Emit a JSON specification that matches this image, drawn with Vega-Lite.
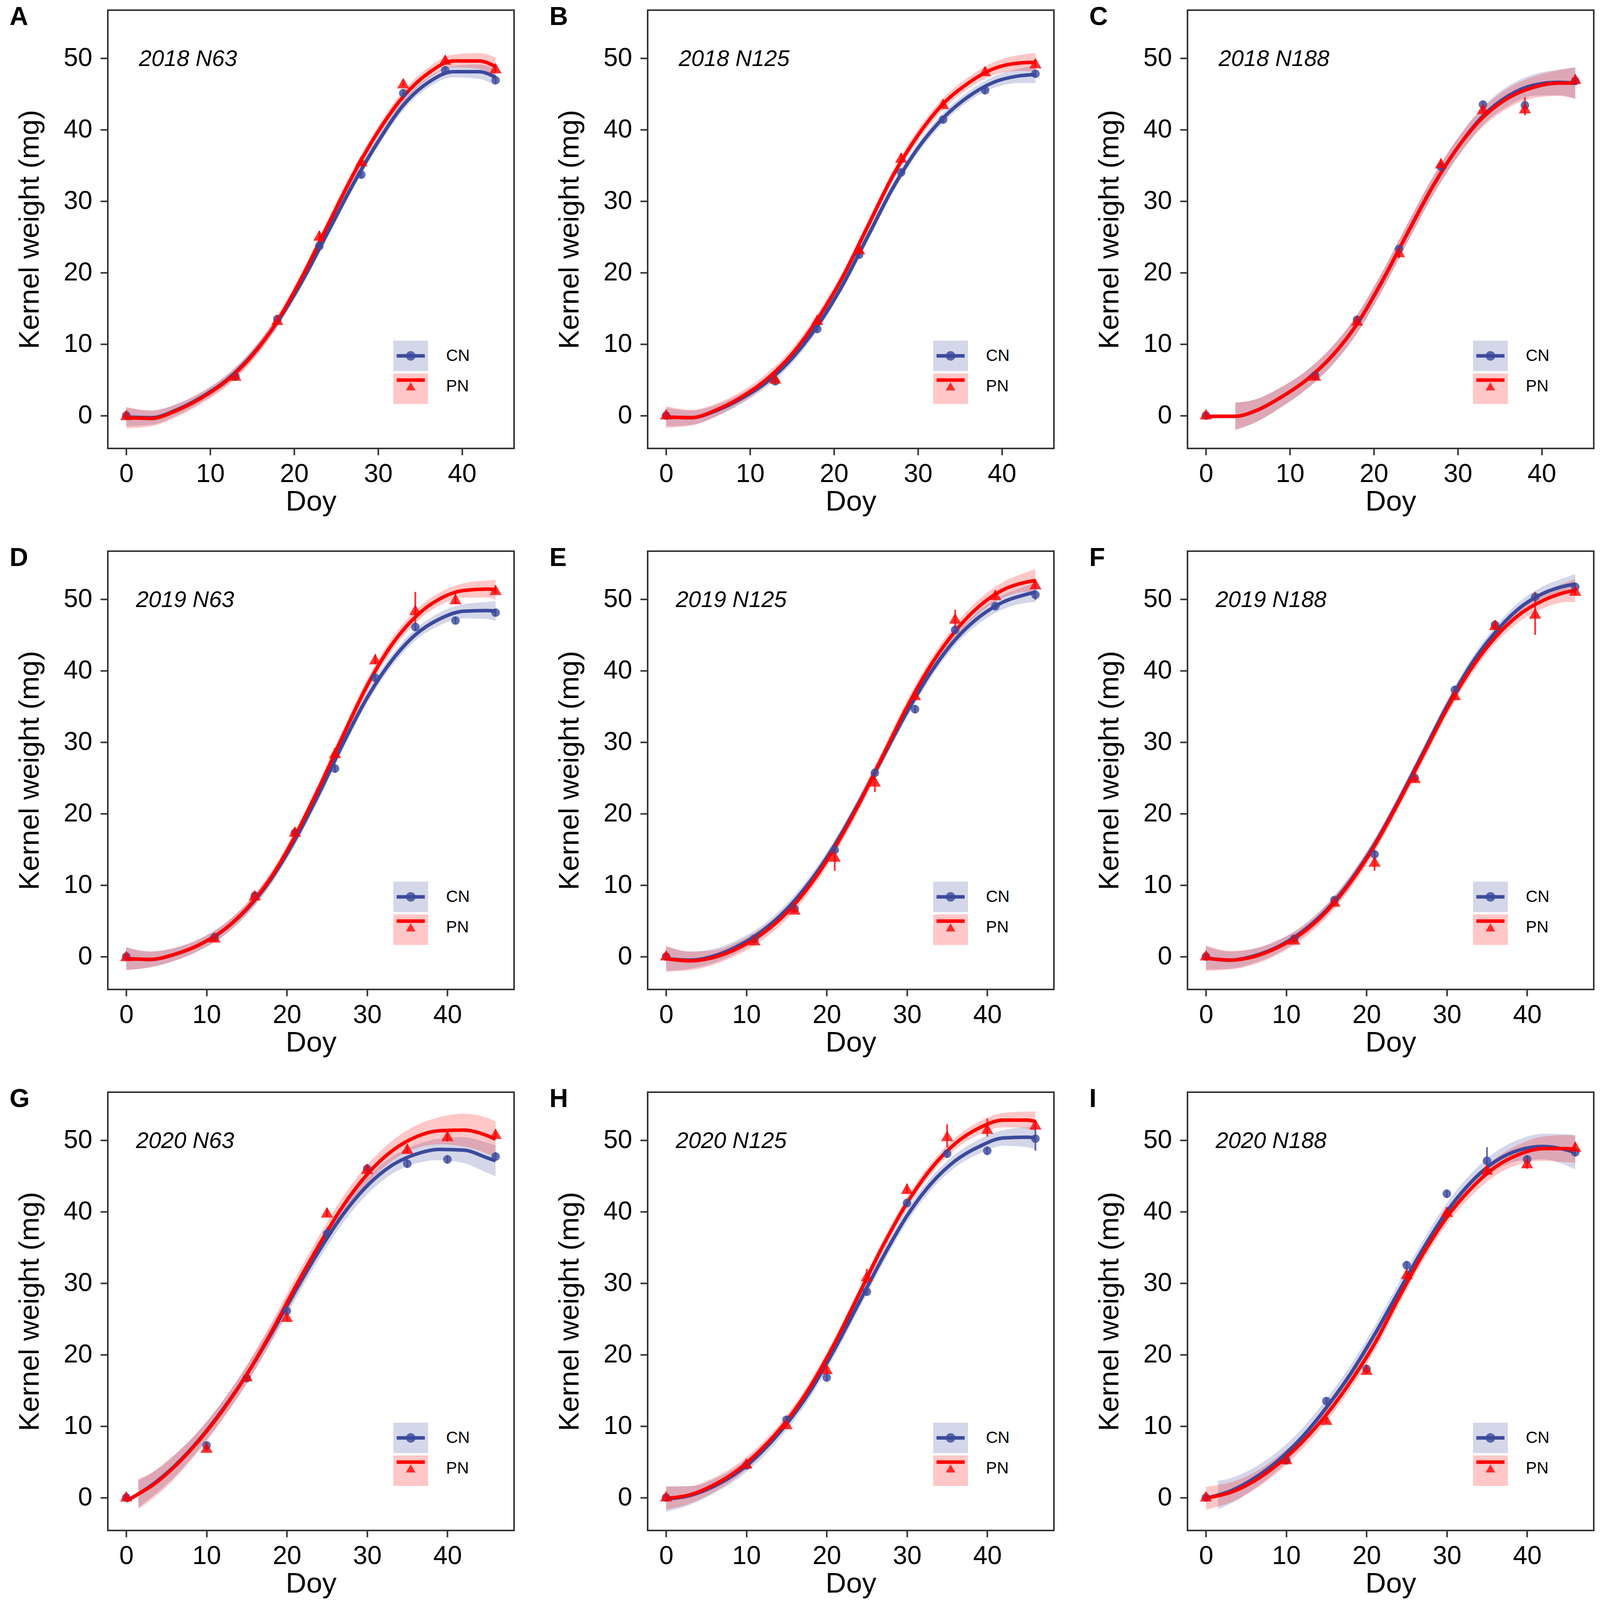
{
"$schema":"https://vega.github.io/schema/vega-lite/v6.json",
"background":"white",
"padding":{"left":22,"top":9,"right":0,"bottom":0},
"datasets":{
"cur":[
{"p":"A","t":"CN","x":0,"y":-0.2,"lo":-1.5,"hi":1.1},{"p":"A","t":"CN","x":3,"y":-0.3,"lo":-1.3,"hi":0.7},{"p":"A","t":"CN","x":6,"y":0.8,"lo":0.0,"hi":1.6},{"p":"A","t":"CN","x":9,"y":2.6,"lo":1.9,"hi":3.3},{"p":"A","t":"CN","x":12,"y":5.0,"lo":4.3,"hi":5.7},{"p":"A","t":"CN","x":15,"y":8.5,"lo":7.8,"hi":9.2},{"p":"A","t":"CN","x":18,"y":13.1,"lo":12.4,"hi":13.8},{"p":"A","t":"CN","x":21,"y":18.9,"lo":18.2,"hi":19.6},{"p":"A","t":"CN","x":24,"y":25.6,"lo":24.9,"hi":26.3},{"p":"A","t":"CN","x":27,"y":32.3,"lo":31.6,"hi":33.0},{"p":"A","t":"CN","x":30,"y":38.3,"lo":37.6,"hi":39.0},{"p":"A","t":"CN","x":33,"y":43.4,"lo":42.7,"hi":44.1},{"p":"A","t":"CN","x":36,"y":46.6,"lo":45.9,"hi":47.3},{"p":"A","t":"CN","x":39,"y":48.1,"lo":47.3,"hi":48.9},{"p":"A","t":"CN","x":42,"y":48.1,"lo":47.1,"hi":49.1},{"p":"A","t":"CN","x":44,"y":47.3,"lo":46.1,"hi":48.5},
{"p":"A","t":"PN","x":0,"y":-0.3,"lo":-1.8,"hi":1.2},{"p":"A","t":"PN","x":3,"y":-0.4,"lo":-1.5,"hi":0.7},{"p":"A","t":"PN","x":6,"y":0.7,"lo":-0.2,"hi":1.6},{"p":"A","t":"PN","x":9,"y":2.5,"lo":1.7,"hi":3.3},{"p":"A","t":"PN","x":12,"y":4.9,"lo":4.1,"hi":5.7},{"p":"A","t":"PN","x":15,"y":8.4,"lo":7.6,"hi":9.2},{"p":"A","t":"PN","x":18,"y":13.2,"lo":12.4,"hi":14.0},{"p":"A","t":"PN","x":21,"y":19.5,"lo":18.7,"hi":20.3},{"p":"A","t":"PN","x":24,"y":26.6,"lo":25.8,"hi":27.4},{"p":"A","t":"PN","x":27,"y":33.6,"lo":32.8,"hi":34.4},{"p":"A","t":"PN","x":30,"y":39.7,"lo":38.9,"hi":40.5},{"p":"A","t":"PN","x":33,"y":44.6,"lo":43.8,"hi":45.4},{"p":"A","t":"PN","x":36,"y":47.9,"lo":47.1,"hi":48.7},{"p":"A","t":"PN","x":39,"y":49.6,"lo":48.7,"hi":50.5},{"p":"A","t":"PN","x":42,"y":49.6,"lo":48.5,"hi":50.7},{"p":"A","t":"PN","x":44,"y":48.8,"lo":47.5,"hi":50.1},
{"p":"B","t":"CN","x":0,"y":-0.2,"lo":-1.5,"hi":1.1},{"p":"B","t":"CN","x":3,"y":-0.3,"lo":-1.3,"hi":0.7},{"p":"B","t":"CN","x":6,"y":0.7,"lo":-0.1,"hi":1.5},{"p":"B","t":"CN","x":9,"y":2.4,"lo":1.7,"hi":3.1},{"p":"B","t":"CN","x":12,"y":4.7,"lo":4.0,"hi":5.4},{"p":"B","t":"CN","x":15,"y":8.0,"lo":7.3,"hi":8.7},{"p":"B","t":"CN","x":18,"y":12.5,"lo":11.8,"hi":13.2},{"p":"B","t":"CN","x":21,"y":18.2,"lo":17.5,"hi":18.9},{"p":"B","t":"CN","x":24,"y":25.0,"lo":24.3,"hi":25.7},{"p":"B","t":"CN","x":27,"y":31.8,"lo":31.1,"hi":32.5},{"p":"B","t":"CN","x":30,"y":37.4,"lo":36.7,"hi":38.1},{"p":"B","t":"CN","x":33,"y":41.6,"lo":40.9,"hi":42.3},{"p":"B","t":"CN","x":36,"y":44.6,"lo":43.9,"hi":45.3},{"p":"B","t":"CN","x":39,"y":46.6,"lo":45.8,"hi":47.4},{"p":"B","t":"CN","x":42,"y":47.5,"lo":46.5,"hi":48.5},{"p":"B","t":"CN","x":44,"y":47.7,"lo":46.5,"hi":48.9},
{"p":"B","t":"PN","x":0,"y":-0.2,"lo":-1.7,"hi":1.3},{"p":"B","t":"PN","x":3,"y":-0.3,"lo":-1.4,"hi":0.8},{"p":"B","t":"PN","x":6,"y":0.8,"lo":-0.1,"hi":1.7},{"p":"B","t":"PN","x":9,"y":2.6,"lo":1.8,"hi":3.4},{"p":"B","t":"PN","x":12,"y":5.1,"lo":4.3,"hi":5.9},{"p":"B","t":"PN","x":15,"y":8.6,"lo":7.8,"hi":9.4},{"p":"B","t":"PN","x":18,"y":13.4,"lo":12.6,"hi":14.2},{"p":"B","t":"PN","x":21,"y":19.3,"lo":18.5,"hi":20.1},{"p":"B","t":"PN","x":24,"y":26.4,"lo":25.6,"hi":27.2},{"p":"B","t":"PN","x":27,"y":33.5,"lo":32.7,"hi":34.3},{"p":"B","t":"PN","x":30,"y":39.2,"lo":38.4,"hi":40.0},{"p":"B","t":"PN","x":33,"y":43.6,"lo":42.8,"hi":44.4},{"p":"B","t":"PN","x":36,"y":46.5,"lo":45.7,"hi":47.3},{"p":"B","t":"PN","x":39,"y":48.5,"lo":47.6,"hi":49.4},{"p":"B","t":"PN","x":42,"y":49.3,"lo":48.2,"hi":50.4},{"p":"B","t":"PN","x":44,"y":49.4,"lo":48.1,"hi":50.7},
{"p":"C","t":"CN","x":0,"y":-0.1,"lo":null,"hi":null},{"p":"C","t":"CN","x":3.5,"y":-0.1,"lo":-2.0,"hi":1.8},{"p":"C","t":"CN","x":6,"y":0.7,"lo":-0.9,"hi":2.3},{"p":"C","t":"CN","x":9,"y":2.6,"lo":1.2,"hi":4.0},{"p":"C","t":"CN","x":12,"y":5.0,"lo":3.7,"hi":6.3},{"p":"C","t":"CN","x":15,"y":8.3,"lo":7.0,"hi":9.6},{"p":"C","t":"CN","x":18,"y":12.8,"lo":11.5,"hi":14.1},{"p":"C","t":"CN","x":21,"y":18.8,"lo":17.5,"hi":20.1},{"p":"C","t":"CN","x":24,"y":25.5,"lo":24.2,"hi":26.8},{"p":"C","t":"CN","x":27,"y":32.0,"lo":30.7,"hi":33.3},{"p":"C","t":"CN","x":30,"y":37.5,"lo":36.2,"hi":38.8},{"p":"C","t":"CN","x":33,"y":41.9,"lo":40.6,"hi":43.2},{"p":"C","t":"CN","x":36,"y":44.7,"lo":43.3,"hi":46.1},{"p":"C","t":"CN","x":39,"y":46.2,"lo":44.7,"hi":47.7},{"p":"C","t":"CN","x":42,"y":46.6,"lo":44.8,"hi":48.4},{"p":"C","t":"CN","x":44,"y":46.5,"lo":44.3,"hi":48.7},
{"p":"C","t":"PN","x":0,"y":-0.1,"lo":null,"hi":null},{"p":"C","t":"PN","x":3.5,"y":-0.1,"lo":-2.0,"hi":1.8},{"p":"C","t":"PN","x":6,"y":0.7,"lo":-0.9,"hi":2.3},{"p":"C","t":"PN","x":9,"y":2.6,"lo":1.2,"hi":4.0},{"p":"C","t":"PN","x":12,"y":5.0,"lo":3.7,"hi":6.3},{"p":"C","t":"PN","x":15,"y":8.3,"lo":7.0,"hi":9.6},{"p":"C","t":"PN","x":18,"y":12.8,"lo":11.5,"hi":14.1},{"p":"C","t":"PN","x":21,"y":18.8,"lo":17.5,"hi":20.1},{"p":"C","t":"PN","x":24,"y":25.5,"lo":24.2,"hi":26.8},{"p":"C","t":"PN","x":27,"y":32.0,"lo":30.7,"hi":33.3},{"p":"C","t":"PN","x":30,"y":37.5,"lo":36.2,"hi":38.8},{"p":"C","t":"PN","x":33,"y":41.7,"lo":40.4,"hi":43.0},{"p":"C","t":"PN","x":36,"y":44.4,"lo":43.0,"hi":45.8},{"p":"C","t":"PN","x":39,"y":45.9,"lo":44.4,"hi":47.4},{"p":"C","t":"PN","x":42,"y":46.5,"lo":44.7,"hi":48.3},{"p":"C","t":"PN","x":44,"y":46.5,"lo":44.3,"hi":48.7},
{"p":"D","t":"CN","x":0,"y":-0.3,"lo":-1.9,"hi":1.3},{"p":"D","t":"CN","x":3,"y":-0.4,"lo":-1.5,"hi":0.7},{"p":"D","t":"CN","x":6,"y":0.3,"lo":-0.6,"hi":1.2},{"p":"D","t":"CN","x":9,"y":1.6,"lo":0.8,"hi":2.4},{"p":"D","t":"CN","x":12,"y":3.6,"lo":2.8,"hi":4.4},{"p":"D","t":"CN","x":15,"y":6.6,"lo":5.8,"hi":7.4},{"p":"D","t":"CN","x":18,"y":10.8,"lo":10.0,"hi":11.6},{"p":"D","t":"CN","x":21,"y":16.3,"lo":15.5,"hi":17.1},{"p":"D","t":"CN","x":24,"y":22.8,"lo":22.0,"hi":23.6},{"p":"D","t":"CN","x":27,"y":29.8,"lo":29.0,"hi":30.6},{"p":"D","t":"CN","x":30,"y":36.2,"lo":35.4,"hi":37.0},{"p":"D","t":"CN","x":33,"y":41.3,"lo":40.5,"hi":42.1},{"p":"D","t":"CN","x":36,"y":45.0,"lo":44.2,"hi":45.8},{"p":"D","t":"CN","x":39,"y":47.2,"lo":46.3,"hi":48.1},{"p":"D","t":"CN","x":42,"y":48.3,"lo":47.3,"hi":49.3},{"p":"D","t":"CN","x":45,"y":48.4,"lo":47.2,"hi":49.6},{"p":"D","t":"CN","x":46,"y":48.3,"lo":46.9,"hi":49.7},
{"p":"D","t":"PN","x":0,"y":-0.3,"lo":-1.9,"hi":1.3},{"p":"D","t":"PN","x":3,"y":-0.4,"lo":-1.5,"hi":0.7},{"p":"D","t":"PN","x":6,"y":0.3,"lo":-0.6,"hi":1.2},{"p":"D","t":"PN","x":9,"y":1.6,"lo":0.8,"hi":2.4},{"p":"D","t":"PN","x":12,"y":3.6,"lo":2.8,"hi":4.4},{"p":"D","t":"PN","x":15,"y":6.7,"lo":5.9,"hi":7.5},{"p":"D","t":"PN","x":18,"y":11.0,"lo":10.2,"hi":11.8},{"p":"D","t":"PN","x":21,"y":16.8,"lo":16.0,"hi":17.6},{"p":"D","t":"PN","x":24,"y":23.6,"lo":22.8,"hi":24.4},{"p":"D","t":"PN","x":27,"y":30.9,"lo":30.0,"hi":31.8},{"p":"D","t":"PN","x":30,"y":37.9,"lo":37.0,"hi":38.8},{"p":"D","t":"PN","x":33,"y":43.5,"lo":42.6,"hi":44.4},{"p":"D","t":"PN","x":36,"y":47.5,"lo":46.6,"hi":48.4},{"p":"D","t":"PN","x":39,"y":50.0,"lo":49.1,"hi":50.9},{"p":"D","t":"PN","x":42,"y":51.2,"lo":50.2,"hi":52.2},{"p":"D","t":"PN","x":45,"y":51.4,"lo":50.2,"hi":52.6},{"p":"D","t":"PN","x":46,"y":51.3,"lo":49.9,"hi":52.7},
{"p":"E","t":"CN","x":0,"y":-0.3,"lo":-2.0,"hi":1.4},{"p":"E","t":"CN","x":3,"y":-0.5,"lo":-1.7,"hi":0.7},{"p":"E","t":"CN","x":6,"y":0.1,"lo":-0.9,"hi":1.1},{"p":"E","t":"CN","x":9,"y":1.5,"lo":0.6,"hi":2.4},{"p":"E","t":"CN","x":12,"y":3.6,"lo":2.8,"hi":4.4},{"p":"E","t":"CN","x":15,"y":6.6,"lo":5.8,"hi":7.4},{"p":"E","t":"CN","x":18,"y":10.6,"lo":9.8,"hi":11.4},{"p":"E","t":"CN","x":21,"y":15.6,"lo":14.8,"hi":16.4},{"p":"E","t":"CN","x":24,"y":21.5,"lo":20.7,"hi":22.3},{"p":"E","t":"CN","x":27,"y":27.9,"lo":27.1,"hi":28.7},{"p":"E","t":"CN","x":30,"y":34.2,"lo":33.4,"hi":35.0},{"p":"E","t":"CN","x":33,"y":39.8,"lo":39.0,"hi":40.6},{"p":"E","t":"CN","x":36,"y":44.3,"lo":43.5,"hi":45.1},{"p":"E","t":"CN","x":39,"y":47.5,"lo":46.6,"hi":48.4},{"p":"E","t":"CN","x":42,"y":49.6,"lo":48.6,"hi":50.6},{"p":"E","t":"CN","x":45,"y":50.7,"lo":49.5,"hi":51.9},{"p":"E","t":"CN","x":46,"y":51.0,"lo":49.6,"hi":52.4},
{"p":"E","t":"PN","x":0,"y":-0.3,"lo":-2.1,"hi":1.5},{"p":"E","t":"PN","x":3,"y":-0.6,"lo":-1.9,"hi":0.7},{"p":"E","t":"PN","x":6,"y":-0.1,"lo":-1.1,"hi":0.9},{"p":"E","t":"PN","x":9,"y":1.2,"lo":0.3,"hi":2.1},{"p":"E","t":"PN","x":12,"y":3.2,"lo":2.3,"hi":4.1},{"p":"E","t":"PN","x":15,"y":6.1,"lo":5.2,"hi":7.0},{"p":"E","t":"PN","x":18,"y":10.1,"lo":9.2,"hi":11.0},{"p":"E","t":"PN","x":21,"y":15.2,"lo":14.3,"hi":16.1},{"p":"E","t":"PN","x":24,"y":21.3,"lo":20.4,"hi":22.2},{"p":"E","t":"PN","x":27,"y":28.1,"lo":27.2,"hi":29.0},{"p":"E","t":"PN","x":30,"y":34.9,"lo":34.0,"hi":35.8},{"p":"E","t":"PN","x":33,"y":40.8,"lo":39.9,"hi":41.7},{"p":"E","t":"PN","x":36,"y":45.5,"lo":44.6,"hi":46.4},{"p":"E","t":"PN","x":39,"y":49.0,"lo":48.0,"hi":50.0},{"p":"E","t":"PN","x":42,"y":51.3,"lo":50.2,"hi":52.4},{"p":"E","t":"PN","x":45,"y":52.4,"lo":51.0,"hi":53.8},{"p":"E","t":"PN","x":46,"y":52.6,"lo":51.0,"hi":54.2},
{"p":"F","t":"CN","x":0,"y":-0.2,"lo":-1.8,"hi":1.4},{"p":"F","t":"CN","x":3,"y":-0.5,"lo":-1.7,"hi":0.7},{"p":"F","t":"CN","x":6,"y":0.1,"lo":-0.9,"hi":1.1},{"p":"F","t":"CN","x":9,"y":1.4,"lo":0.5,"hi":2.3},{"p":"F","t":"CN","x":12,"y":3.5,"lo":2.7,"hi":4.3},{"p":"F","t":"CN","x":15,"y":6.5,"lo":5.7,"hi":7.3},{"p":"F","t":"CN","x":18,"y":10.6,"lo":9.8,"hi":11.4},{"p":"F","t":"CN","x":21,"y":15.7,"lo":14.9,"hi":16.5},{"p":"F","t":"CN","x":24,"y":21.8,"lo":21.0,"hi":22.6},{"p":"F","t":"CN","x":27,"y":28.4,"lo":27.6,"hi":29.2},{"p":"F","t":"CN","x":30,"y":35.0,"lo":34.2,"hi":35.8},{"p":"F","t":"CN","x":33,"y":40.8,"lo":40.0,"hi":41.6},{"p":"F","t":"CN","x":36,"y":45.3,"lo":44.5,"hi":46.1},{"p":"F","t":"CN","x":39,"y":48.7,"lo":47.8,"hi":49.6},{"p":"F","t":"CN","x":42,"y":50.8,"lo":49.8,"hi":51.8},{"p":"F","t":"CN","x":45,"y":51.9,"lo":50.7,"hi":53.1},{"p":"F","t":"CN","x":46,"y":52.1,"lo":50.7,"hi":53.5},
{"p":"F","t":"PN","x":0,"y":-0.2,"lo":-2.0,"hi":1.6},{"p":"F","t":"PN","x":3,"y":-0.5,"lo":-1.8,"hi":0.8},{"p":"F","t":"PN","x":6,"y":0.0,"lo":-1.1,"hi":1.1},{"p":"F","t":"PN","x":9,"y":1.3,"lo":0.3,"hi":2.3},{"p":"F","t":"PN","x":12,"y":3.3,"lo":2.4,"hi":4.2},{"p":"F","t":"PN","x":15,"y":6.3,"lo":5.4,"hi":7.2},{"p":"F","t":"PN","x":18,"y":10.4,"lo":9.5,"hi":11.3},{"p":"F","t":"PN","x":21,"y":15.5,"lo":14.6,"hi":16.4},{"p":"F","t":"PN","x":24,"y":21.6,"lo":20.7,"hi":22.5},{"p":"F","t":"PN","x":27,"y":28.1,"lo":27.2,"hi":29.0},{"p":"F","t":"PN","x":30,"y":34.6,"lo":33.7,"hi":35.5},{"p":"F","t":"PN","x":33,"y":40.2,"lo":39.3,"hi":41.1},{"p":"F","t":"PN","x":36,"y":44.6,"lo":43.7,"hi":45.5},{"p":"F","t":"PN","x":39,"y":47.8,"lo":46.8,"hi":48.8},{"p":"F","t":"PN","x":42,"y":49.8,"lo":48.7,"hi":50.9},{"p":"F","t":"PN","x":45,"y":51.0,"lo":49.6,"hi":52.4},{"p":"F","t":"PN","x":46,"y":51.2,"lo":49.6,"hi":52.8},
{"p":"G","t":"CN","x":0,"y":-0.5,"lo":null,"hi":null},{"p":"G","t":"CN","x":1.5,"y":0.5,"lo":-1.4,"hi":2.4},{"p":"G","t":"CN","x":3,"y":1.6,"lo":-0.1,"hi":3.3},{"p":"G","t":"CN","x":6,"y":4.4,"lo":2.9,"hi":5.9},{"p":"G","t":"CN","x":9,"y":8.0,"lo":6.7,"hi":9.3},{"p":"G","t":"CN","x":12,"y":12.3,"lo":11.1,"hi":13.5},{"p":"G","t":"CN","x":15,"y":17.2,"lo":16.0,"hi":18.4},{"p":"G","t":"CN","x":18,"y":22.8,"lo":21.6,"hi":24.0},{"p":"G","t":"CN","x":21,"y":28.8,"lo":27.6,"hi":30.0},{"p":"G","t":"CN","x":24,"y":34.5,"lo":33.3,"hi":35.7},{"p":"G","t":"CN","x":27,"y":39.6,"lo":38.4,"hi":40.8},{"p":"G","t":"CN","x":30,"y":43.6,"lo":42.4,"hi":44.8},{"p":"G","t":"CN","x":33,"y":46.4,"lo":45.2,"hi":47.6},{"p":"G","t":"CN","x":36,"y":48.0,"lo":46.7,"hi":49.3},{"p":"G","t":"CN","x":39,"y":48.7,"lo":47.2,"hi":50.2},{"p":"G","t":"CN","x":42,"y":48.6,"lo":46.8,"hi":50.4},{"p":"G","t":"CN","x":45,"y":47.5,"lo":45.4,"hi":49.6},{"p":"G","t":"CN","x":46,"y":47.1,"lo":44.9,"hi":49.3},
{"p":"G","t":"PN","x":0,"y":-0.5,"lo":null,"hi":null},{"p":"G","t":"PN","x":1.5,"y":0.5,"lo":-1.6,"hi":2.6},{"p":"G","t":"PN","x":3,"y":1.5,"lo":-0.4,"hi":3.4},{"p":"G","t":"PN","x":6,"y":4.3,"lo":2.6,"hi":6.0},{"p":"G","t":"PN","x":9,"y":7.9,"lo":6.5,"hi":9.3},{"p":"G","t":"PN","x":12,"y":12.2,"lo":10.9,"hi":13.5},{"p":"G","t":"PN","x":15,"y":17.2,"lo":15.9,"hi":18.5},{"p":"G","t":"PN","x":18,"y":23.0,"lo":21.7,"hi":24.3},{"p":"G","t":"PN","x":21,"y":29.3,"lo":28.0,"hi":30.6},{"p":"G","t":"PN","x":24,"y":35.3,"lo":34.0,"hi":36.6},{"p":"G","t":"PN","x":27,"y":40.8,"lo":39.5,"hi":42.1},{"p":"G","t":"PN","x":30,"y":45.2,"lo":43.9,"hi":46.5},{"p":"G","t":"PN","x":33,"y":48.4,"lo":47.0,"hi":49.8},{"p":"G","t":"PN","x":36,"y":50.4,"lo":48.8,"hi":52.0},{"p":"G","t":"PN","x":39,"y":51.3,"lo":49.4,"hi":53.2},{"p":"G","t":"PN","x":42,"y":51.4,"lo":49.1,"hi":53.7},{"p":"G","t":"PN","x":45,"y":50.6,"lo":48.1,"hi":53.1},{"p":"G","t":"PN","x":46,"y":50.1,"lo":47.6,"hi":52.6},
{"p":"H","t":"CN","x":0,"y":-0.2,"lo":-2.0,"hi":1.6},{"p":"H","t":"CN","x":3,"y":0.3,"lo":-1.0,"hi":1.6},{"p":"H","t":"CN","x":6,"y":1.6,"lo":0.6,"hi":2.6},{"p":"H","t":"CN","x":9,"y":3.6,"lo":2.7,"hi":4.5},{"p":"H","t":"CN","x":12,"y":6.5,"lo":5.6,"hi":7.4},{"p":"H","t":"CN","x":15,"y":10.3,"lo":9.4,"hi":11.2},{"p":"H","t":"CN","x":18,"y":15.0,"lo":14.1,"hi":15.9},{"p":"H","t":"CN","x":21,"y":20.8,"lo":19.9,"hi":21.7},{"p":"H","t":"CN","x":24,"y":27.2,"lo":26.3,"hi":28.1},{"p":"H","t":"CN","x":27,"y":33.6,"lo":32.7,"hi":34.5},{"p":"H","t":"CN","x":30,"y":39.4,"lo":38.5,"hi":40.3},{"p":"H","t":"CN","x":33,"y":43.9,"lo":43.0,"hi":44.8},{"p":"H","t":"CN","x":36,"y":47.1,"lo":46.2,"hi":48.0},{"p":"H","t":"CN","x":39,"y":49.1,"lo":48.1,"hi":50.1},{"p":"H","t":"CN","x":42,"y":50.3,"lo":49.2,"hi":51.4},{"p":"H","t":"CN","x":45,"y":50.4,"lo":49.0,"hi":51.8},{"p":"H","t":"CN","x":46,"y":50.3,"lo":48.7,"hi":51.9},
{"p":"H","t":"PN","x":0,"y":-0.1,"lo":-1.7,"hi":1.5},{"p":"H","t":"PN","x":3,"y":0.4,"lo":-0.8,"hi":1.6},{"p":"H","t":"PN","x":6,"y":1.8,"lo":0.8,"hi":2.8},{"p":"H","t":"PN","x":9,"y":3.9,"lo":3.0,"hi":4.8},{"p":"H","t":"PN","x":12,"y":6.9,"lo":6.1,"hi":7.7},{"p":"H","t":"PN","x":15,"y":10.7,"lo":9.9,"hi":11.5},{"p":"H","t":"PN","x":18,"y":15.6,"lo":14.8,"hi":16.4},{"p":"H","t":"PN","x":21,"y":21.6,"lo":20.8,"hi":22.4},{"p":"H","t":"PN","x":24,"y":28.4,"lo":27.6,"hi":29.2},{"p":"H","t":"PN","x":27,"y":35.2,"lo":34.4,"hi":36.0},{"p":"H","t":"PN","x":30,"y":41.2,"lo":40.4,"hi":42.0},{"p":"H","t":"PN","x":33,"y":46.0,"lo":45.2,"hi":46.8},{"p":"H","t":"PN","x":36,"y":49.5,"lo":48.7,"hi":50.3},{"p":"H","t":"PN","x":39,"y":51.7,"lo":50.8,"hi":52.6},{"p":"H","t":"PN","x":42,"y":52.8,"lo":51.8,"hi":53.8},{"p":"H","t":"PN","x":45,"y":52.8,"lo":51.6,"hi":54.0},{"p":"H","t":"PN","x":46,"y":52.6,"lo":51.2,"hi":54.0},
{"p":"I","t":"CN","x":0,"y":-0.1,"lo":null,"hi":null},{"p":"I","t":"CN","x":1.5,"y":0.35,"lo":-1.65,"hi":2.35},{"p":"I","t":"CN","x":3,"y":0.9,"lo":-0.9,"hi":2.7},{"p":"I","t":"CN","x":6,"y":2.7,"lo":1.2,"hi":4.2},{"p":"I","t":"CN","x":9,"y":5.2,"lo":3.9,"hi":6.5},{"p":"I","t":"CN","x":12,"y":8.5,"lo":7.3,"hi":9.7},{"p":"I","t":"CN","x":15,"y":12.6,"lo":11.4,"hi":13.8},{"p":"I","t":"CN","x":18,"y":17.3,"lo":16.1,"hi":18.5},{"p":"I","t":"CN","x":21,"y":22.8,"lo":21.6,"hi":24.0},{"p":"I","t":"CN","x":24,"y":28.8,"lo":27.6,"hi":30.0},{"p":"I","t":"CN","x":27,"y":34.7,"lo":33.5,"hi":35.9},{"p":"I","t":"CN","x":30,"y":40.0,"lo":38.8,"hi":41.2},{"p":"I","t":"CN","x":33,"y":44.1,"lo":42.9,"hi":45.3},{"p":"I","t":"CN","x":36,"y":47.0,"lo":45.7,"hi":48.3},{"p":"I","t":"CN","x":39,"y":48.6,"lo":47.1,"hi":50.1},{"p":"I","t":"CN","x":42,"y":49.1,"lo":47.3,"hi":50.9},{"p":"I","t":"CN","x":45,"y":48.6,"lo":46.4,"hi":50.8},{"p":"I","t":"CN","x":46,"y":48.3,"lo":45.9,"hi":50.7},
{"p":"I","t":"PN","x":0,"y":-0.1,"lo":-1.7,"hi":1.5},{"p":"I","t":"PN","x":1.5,"y":0.25,"lo":-1.25,"hi":1.75},{"p":"I","t":"PN","x":3,"y":0.7,"lo":-0.7,"hi":2.1},{"p":"I","t":"PN","x":6,"y":2.3,"lo":1.1,"hi":3.5},{"p":"I","t":"PN","x":9,"y":4.7,"lo":3.6,"hi":5.8},{"p":"I","t":"PN","x":12,"y":7.8,"lo":6.8,"hi":8.8},{"p":"I","t":"PN","x":15,"y":11.6,"lo":10.6,"hi":12.6},{"p":"I","t":"PN","x":18,"y":16.2,"lo":15.2,"hi":17.2},{"p":"I","t":"PN","x":21,"y":21.5,"lo":20.5,"hi":22.5},{"p":"I","t":"PN","x":24,"y":27.9,"lo":26.9,"hi":28.9},{"p":"I","t":"PN","x":27,"y":34.0,"lo":33.0,"hi":35.0},{"p":"I","t":"PN","x":30,"y":39.2,"lo":38.2,"hi":40.2},{"p":"I","t":"PN","x":33,"y":43.2,"lo":42.1,"hi":44.3},{"p":"I","t":"PN","x":36,"y":46.2,"lo":45.0,"hi":47.4},{"p":"I","t":"PN","x":39,"y":48.0,"lo":46.6,"hi":49.4},{"p":"I","t":"PN","x":42,"y":48.8,"lo":47.1,"hi":50.5},{"p":"I","t":"PN","x":45,"y":48.8,"lo":46.9,"hi":50.7},{"p":"I","t":"PN","x":46,"y":48.7,"lo":46.8,"hi":50.6}
],
"pts":[
{"p":"A","t":"CN","d":0,"w":0,"ymin":-0.4,"ymax":0.4},{"p":"A","t":"CN","d":13,"w":5.45,"ymin":5.0,"ymax":5.9},{"p":"A","t":"CN","d":18,"w":13.5,"ymin":13.0,"ymax":14.0},{"p":"A","t":"CN","d":23,"w":23.7,"ymin":23.2,"ymax":24.2},{"p":"A","t":"CN","d":28,"w":33.7,"ymin":33.2,"ymax":34.2},{"p":"A","t":"CN","d":33,"w":45.1,"ymin":44.6,"ymax":45.6},{"p":"A","t":"CN","d":38,"w":48.3,"ymin":47.8,"ymax":48.8},{"p":"A","t":"CN","d":44,"w":46.9,"ymin":46.4,"ymax":47.4},
{"p":"A","t":"PN","d":0,"w":0.1,"ymin":-0.3,"ymax":0.5},{"p":"A","t":"PN","d":13,"w":5.6,"ymin":5.1,"ymax":6.1},{"p":"A","t":"PN","d":18,"w":13.4,"ymin":12.9,"ymax":13.9},{"p":"A","t":"PN","d":23,"w":25.2,"ymin":24.6,"ymax":25.8},{"p":"A","t":"PN","d":28,"w":35.6,"ymin":35.0,"ymax":36.2},{"p":"A","t":"PN","d":33,"w":46.5,"ymin":46.0,"ymax":47.0},{"p":"A","t":"PN","d":38,"w":49.8,"ymin":49.3,"ymax":50.3},{"p":"A","t":"PN","d":44,"w":48.6,"ymin":48.1,"ymax":49.1},
{"p":"B","t":"CN","d":0,"w":0,"ymin":-0.4,"ymax":0.4},{"p":"B","t":"CN","d":13,"w":4.8,"ymin":4.3,"ymax":5.3},{"p":"B","t":"CN","d":18,"w":12.1,"ymin":11.6,"ymax":12.6},{"p":"B","t":"CN","d":23,"w":22.5,"ymin":22.0,"ymax":23.0},{"p":"B","t":"CN","d":28,"w":34.0,"ymin":33.5,"ymax":34.5},{"p":"B","t":"CN","d":33,"w":41.4,"ymin":40.9,"ymax":41.9},{"p":"B","t":"CN","d":38,"w":45.5,"ymin":45.0,"ymax":46.0},{"p":"B","t":"CN","d":44,"w":47.8,"ymin":47.3,"ymax":48.3},
{"p":"B","t":"PN","d":0,"w":0.2,"ymin":-0.2,"ymax":0.6},{"p":"B","t":"PN","d":13,"w":5.2,"ymin":4.7,"ymax":5.7},{"p":"B","t":"PN","d":18,"w":13.4,"ymin":12.9,"ymax":13.9},{"p":"B","t":"PN","d":23,"w":23.3,"ymin":22.8,"ymax":23.8},{"p":"B","t":"PN","d":28,"w":36.1,"ymin":35.5,"ymax":36.7},{"p":"B","t":"PN","d":33,"w":43.6,"ymin":43.1,"ymax":44.1},{"p":"B","t":"PN","d":38,"w":48.2,"ymin":47.7,"ymax":48.7},{"p":"B","t":"PN","d":44,"w":49.3,"ymin":48.8,"ymax":49.8},
{"p":"C","t":"CN","d":0,"w":0,"ymin":-0.4,"ymax":0.4},{"p":"C","t":"CN","d":13,"w":5.6,"ymin":5.1,"ymax":6.1},{"p":"C","t":"CN","d":18,"w":13.4,"ymin":12.9,"ymax":13.9},{"p":"C","t":"CN","d":23,"w":23.3,"ymin":22.8,"ymax":23.8},{"p":"C","t":"CN","d":28,"w":34.8,"ymin":34.2,"ymax":35.4},{"p":"C","t":"CN","d":33,"w":43.5,"ymin":43.0,"ymax":44.0},{"p":"C","t":"CN","d":38,"w":43.4,"ymin":42.9,"ymax":43.9},{"p":"C","t":"CN","d":44,"w":46.8,"ymin":46.3,"ymax":47.3},
{"p":"C","t":"PN","d":0,"w":0.2,"ymin":-0.2,"ymax":0.6},{"p":"C","t":"PN","d":13,"w":5.6,"ymin":5.1,"ymax":6.1},{"p":"C","t":"PN","d":18,"w":13.3,"ymin":12.8,"ymax":13.8},{"p":"C","t":"PN","d":23,"w":22.9,"ymin":22.0,"ymax":23.6},{"p":"C","t":"PN","d":28,"w":35.3,"ymin":34.7,"ymax":35.9},{"p":"C","t":"PN","d":33,"w":42.9,"ymin":42.4,"ymax":43.4},{"p":"C","t":"PN","d":38,"w":43.0,"ymin":42.0,"ymax":44.5},{"p":"C","t":"PN","d":44,"w":47.1,"ymin":46.5,"ymax":47.7},
{"p":"D","t":"CN","d":0,"w":0,"ymin":-0.4,"ymax":0.4},{"p":"D","t":"CN","d":11,"w":2.7,"ymin":2.2,"ymax":3.2},{"p":"D","t":"CN","d":16,"w":8.5,"ymin":8.0,"ymax":9.0},{"p":"D","t":"CN","d":21,"w":17.3,"ymin":16.8,"ymax":17.8},{"p":"D","t":"CN","d":26,"w":26.3,"ymin":25.7,"ymax":26.9},{"p":"D","t":"CN","d":31,"w":39.0,"ymin":38.4,"ymax":39.6},{"p":"D","t":"CN","d":36,"w":46.1,"ymin":45.5,"ymax":46.7},{"p":"D","t":"CN","d":41,"w":47.0,"ymin":46.5,"ymax":47.5},{"p":"D","t":"CN","d":46,"w":48.1,"ymin":47.6,"ymax":48.6},
{"p":"D","t":"PN","d":0,"w":0.1,"ymin":-0.3,"ymax":0.5},{"p":"D","t":"PN","d":11,"w":2.7,"ymin":2.2,"ymax":3.2},{"p":"D","t":"PN","d":16,"w":8.6,"ymin":8.1,"ymax":9.1},{"p":"D","t":"PN","d":21,"w":17.5,"ymin":17.0,"ymax":18.0},{"p":"D","t":"PN","d":26,"w":28.5,"ymin":27.8,"ymax":29.2},{"p":"D","t":"PN","d":31,"w":41.6,"ymin":40.9,"ymax":42.3},{"p":"D","t":"PN","d":36,"w":48.5,"ymin":46.5,"ymax":51.0},{"p":"D","t":"PN","d":41,"w":50.0,"ymin":49.3,"ymax":50.7},{"p":"D","t":"PN","d":46,"w":51.3,"ymin":50.8,"ymax":51.8},
{"p":"E","t":"CN","d":0,"w":0,"ymin":-0.4,"ymax":0.4},{"p":"E","t":"CN","d":11,"w":2.5,"ymin":2.0,"ymax":3.0},{"p":"E","t":"CN","d":16,"w":6.7,"ymin":6.2,"ymax":7.2},{"p":"E","t":"CN","d":21,"w":14.9,"ymin":14.3,"ymax":15.5},{"p":"E","t":"CN","d":26,"w":25.7,"ymin":25.1,"ymax":26.3},{"p":"E","t":"CN","d":31,"w":34.6,"ymin":34.0,"ymax":35.2},{"p":"E","t":"CN","d":36,"w":45.7,"ymin":45.1,"ymax":46.3},{"p":"E","t":"CN","d":41,"w":49.0,"ymin":48.5,"ymax":49.5},{"p":"E","t":"CN","d":46,"w":50.6,"ymin":49.9,"ymax":51.3},
{"p":"E","t":"PN","d":0,"w":0.2,"ymin":-0.2,"ymax":0.6},{"p":"E","t":"PN","d":11,"w":2.3,"ymin":1.8,"ymax":2.8},{"p":"E","t":"PN","d":16,"w":6.6,"ymin":6.1,"ymax":7.1},{"p":"E","t":"PN","d":21,"w":14.0,"ymin":12.0,"ymax":15.5},{"p":"E","t":"PN","d":26,"w":24.5,"ymin":23.0,"ymax":26.0},{"p":"E","t":"PN","d":31,"w":36.6,"ymin":35.9,"ymax":37.3},{"p":"E","t":"PN","d":36,"w":47.3,"ymin":46.0,"ymax":48.5},{"p":"E","t":"PN","d":41,"w":50.6,"ymin":50.0,"ymax":51.2},{"p":"E","t":"PN","d":46,"w":52.1,"ymin":51.5,"ymax":52.7},
{"p":"F","t":"CN","d":0,"w":0,"ymin":-0.4,"ymax":0.4},{"p":"F","t":"CN","d":11,"w":2.5,"ymin":2.0,"ymax":3.0},{"p":"F","t":"CN","d":16,"w":7.9,"ymin":7.4,"ymax":8.4},{"p":"F","t":"CN","d":21,"w":14.3,"ymin":13.7,"ymax":14.9},{"p":"F","t":"CN","d":26,"w":25.0,"ymin":24.4,"ymax":25.6},{"p":"F","t":"CN","d":31,"w":37.3,"ymin":36.7,"ymax":37.9},{"p":"F","t":"CN","d":36,"w":46.4,"ymin":45.8,"ymax":47.0},{"p":"F","t":"CN","d":41,"w":50.3,"ymin":49.7,"ymax":50.9},{"p":"F","t":"CN","d":46,"w":51.7,"ymin":51.1,"ymax":52.3},
{"p":"F","t":"PN","d":0,"w":0.2,"ymin":-0.2,"ymax":0.6},{"p":"F","t":"PN","d":11,"w":2.4,"ymin":1.9,"ymax":2.9},{"p":"F","t":"PN","d":16,"w":7.7,"ymin":7.2,"ymax":8.2},{"p":"F","t":"PN","d":21,"w":13.3,"ymin":12.0,"ymax":14.8},{"p":"F","t":"PN","d":26,"w":25.0,"ymin":24.4,"ymax":25.6},{"p":"F","t":"PN","d":31,"w":36.6,"ymin":36.0,"ymax":37.2},{"p":"F","t":"PN","d":36,"w":46.4,"ymin":45.8,"ymax":47.0},{"p":"F","t":"PN","d":41,"w":48.0,"ymin":45.0,"ymax":51.0},{"p":"F","t":"PN","d":46,"w":51.2,"ymin":50.6,"ymax":51.8},
{"p":"G","t":"CN","d":0,"w":0,"ymin":-0.4,"ymax":0.4},{"p":"G","t":"CN","d":10,"w":7.3,"ymin":6.8,"ymax":7.8},{"p":"G","t":"CN","d":15,"w":16.7,"ymin":16.2,"ymax":17.2},{"p":"G","t":"CN","d":20,"w":26.1,"ymin":25.5,"ymax":26.7},{"p":"G","t":"CN","d":25,"w":36.9,"ymin":36.0,"ymax":37.8},{"p":"G","t":"CN","d":30,"w":46.0,"ymin":45.4,"ymax":46.6},{"p":"G","t":"CN","d":35,"w":46.7,"ymin":46.1,"ymax":47.3},{"p":"G","t":"CN","d":40,"w":47.3,"ymin":46.7,"ymax":47.9},{"p":"G","t":"CN","d":46,"w":47.7,"ymin":47.1,"ymax":48.3},
{"p":"G","t":"PN","d":0,"w":0.2,"ymin":-0.2,"ymax":0.6},{"p":"G","t":"PN","d":10,"w":7.0,"ymin":6.5,"ymax":7.5},{"p":"G","t":"PN","d":15,"w":17.0,"ymin":16.5,"ymax":17.5},{"p":"G","t":"PN","d":20,"w":25.3,"ymin":24.7,"ymax":25.9},{"p":"G","t":"PN","d":25,"w":39.9,"ymin":39.3,"ymax":40.5},{"p":"G","t":"PN","d":30,"w":46.0,"ymin":45.4,"ymax":46.6},{"p":"G","t":"PN","d":35,"w":48.8,"ymin":48.2,"ymax":49.4},{"p":"G","t":"PN","d":40,"w":50.6,"ymin":49.8,"ymax":51.4},{"p":"G","t":"PN","d":46,"w":50.9,"ymin":50.3,"ymax":51.5},
{"p":"H","t":"CN","d":0,"w":0,"ymin":-0.4,"ymax":0.4},{"p":"H","t":"CN","d":10,"w":4.5,"ymin":4.0,"ymax":5.0},{"p":"H","t":"CN","d":15,"w":10.9,"ymin":10.4,"ymax":11.4},{"p":"H","t":"CN","d":20,"w":16.8,"ymin":16.2,"ymax":17.4},{"p":"H","t":"CN","d":25,"w":28.8,"ymin":28.2,"ymax":29.4},{"p":"H","t":"CN","d":30,"w":41.2,"ymin":40.6,"ymax":41.8},{"p":"H","t":"CN","d":35,"w":48.1,"ymin":47.5,"ymax":48.7},{"p":"H","t":"CN","d":40,"w":48.5,"ymin":47.9,"ymax":49.1},{"p":"H","t":"CN","d":46,"w":50.2,"ymin":48.5,"ymax":51.8},
{"p":"H","t":"PN","d":0,"w":0.2,"ymin":-0.2,"ymax":0.6},{"p":"H","t":"PN","d":10,"w":4.8,"ymin":4.3,"ymax":5.3},{"p":"H","t":"PN","d":15,"w":10.3,"ymin":9.8,"ymax":10.8},{"p":"H","t":"PN","d":20,"w":18.0,"ymin":17.4,"ymax":18.6},{"p":"H","t":"PN","d":25,"w":31.0,"ymin":30.0,"ymax":32.0},{"p":"H","t":"PN","d":30,"w":43.2,"ymin":42.5,"ymax":43.9},{"p":"H","t":"PN","d":35,"w":50.6,"ymin":49.0,"ymax":52.2},{"p":"H","t":"PN","d":40,"w":51.6,"ymin":50.5,"ymax":53.0},{"p":"H","t":"PN","d":46,"w":52.2,"ymin":51.6,"ymax":52.8},
{"p":"I","t":"CN","d":0,"w":0,"ymin":-0.4,"ymax":0.4},{"p":"I","t":"CN","d":10,"w":5.2,"ymin":4.7,"ymax":5.7},{"p":"I","t":"CN","d":15,"w":13.5,"ymin":13.0,"ymax":14.0},{"p":"I","t":"CN","d":20,"w":18.0,"ymin":17.4,"ymax":18.6},{"p":"I","t":"CN","d":25,"w":32.5,"ymin":31.9,"ymax":33.1},{"p":"I","t":"CN","d":30,"w":42.5,"ymin":41.9,"ymax":43.1},{"p":"I","t":"CN","d":35,"w":47.1,"ymin":45.3,"ymax":49.0},{"p":"I","t":"CN","d":40,"w":47.3,"ymin":46.7,"ymax":47.9},{"p":"I","t":"CN","d":46,"w":48.3,"ymin":47.7,"ymax":48.9},
{"p":"I","t":"PN","d":0,"w":0.2,"ymin":-0.2,"ymax":0.6},{"p":"I","t":"PN","d":10,"w":5.4,"ymin":4.9,"ymax":5.9},{"p":"I","t":"PN","d":15,"w":10.9,"ymin":10.4,"ymax":11.4},{"p":"I","t":"PN","d":20,"w":17.9,"ymin":17.3,"ymax":18.5},{"p":"I","t":"PN","d":25,"w":31.3,"ymin":30.7,"ymax":31.9},{"p":"I","t":"PN","d":30,"w":40.0,"ymin":39.4,"ymax":40.6},{"p":"I","t":"PN","d":35,"w":45.9,"ymin":45.3,"ymax":46.5},{"p":"I","t":"PN","d":40,"w":46.8,"ymin":46.0,"ymax":47.8},{"p":"I","t":"PN","d":46,"w":49.1,"ymin":48.5,"ymax":49.7}
]},
"columns":3,
"spacing":{"row":71,"column":86},
"resolve":{"scale":{"color":"independent","shape":"independent","fill":"independent","stroke":"independent"},"legend":{"color":"independent","shape":"independent","fill":"independent","stroke":"independent"}},
"concat":[
{"width":1040,"height":1122,"title":"A","layer":[
{"data":{"name":"cur"},"transform":[{"filter":"datum.p==='A' && datum.lo != null"}],"mark":{"type":"area","opacity":0.22,"interpolate":"monotone"},"encoding":{"x":{"field":"x","type":"quantitative","title":"Doy","scale":{"domain":[-2.2,46.2],"nice":false,"zero":false},"axis":{"values":[0,10,20,30,40]}},"y":{"field":"lo","type":"quantitative","title":"Kernel weight (mg)","scale":{"domain":[-4.6,56.7],"nice":false,"zero":false},"axis":{"values":[0,10,20,30,40,50]}},"y2":{"field":"hi"},"fill":{"field":"t","type":"nominal","scale":{"range":["#3B4A9C","#FF0000"]},"legend":{"title":null,"legendX":731,"legendY":840.5,"symbolType":"M-1,-0.876H1V0.876H-1Z","symbolSize":7921,"symbolOpacity":0.22,"symbolStrokeWidth":0,"rowPadding":-11,"labelOpacity":0,"labelExpr":"''"}}}},
{"data":{"name":"cur"},"transform":[{"filter":"datum.p==='A'"}],"mark":{"type":"line","strokeWidth":9,"interpolate":"monotone"},"encoding":{"x":{"field":"x","type":"quantitative","title":"Doy","scale":{"domain":[-2.2,46.2],"nice":false,"zero":false}},"y":{"field":"y","type":"quantitative","title":"Kernel weight (mg)","scale":{"domain":[-4.6,56.7],"nice":false,"zero":false}},"stroke":{"field":"t","type":"nominal","scale":{"range":["#3B4A9C","#FF0000"]},"legend":{"title":null,"legendX":735,"legendY":844.5,"symbolType":"stroke","symbolSize":5184,"symbolStrokeWidth":9,"symbolOpacity":1,"rowPadding":-3,"labelOpacity":0,"labelExpr":"''"}}}},
{"data":{"name":"pts"},"transform":[{"filter":"datum.p==='A'"}],"mark":{"type":"rule","strokeWidth":4.5,"opacity":0.8},"encoding":{"x":{"field":"d","type":"quantitative","title":"Doy","scale":{"domain":[-2.2,46.2],"nice":false,"zero":false}},"y":{"field":"ymin","type":"quantitative","title":"Kernel weight (mg)","scale":{"domain":[-4.6,56.7],"nice":false,"zero":false}},"y2":{"field":"ymax"},"color":{"field":"t","type":"nominal","scale":{"domain":["CN","PN"],"range":["#3B4A9C","#FF0000"]}}}},
{"data":{"name":"pts"},"transform":[{"filter":"datum.p==='A'"}],"mark":{"type":"point","filled":true,"opacity":0.8},"encoding":{"x":{"field":"d","type":"quantitative","title":"Doy","scale":{"domain":[-2.2,46.2],"nice":false,"zero":false}},"y":{"field":"w","type":"quantitative","title":"Kernel weight (mg)","scale":{"domain":[-4.6,56.7],"nice":false,"zero":false}},"color":{"field":"t","type":"nominal","scale":{"domain":["CN","PN"],"range":["#3B4A9C","#FF0000"]},"legend":{"title":null,"legendX":754.5,"legendY":864,"symbolSize":600,"symbolOpacity":0.85,"symbolStrokeWidth":0,"rowPadding":36,"labelOffset":69.5}},"shape":{"field":"t","type":"nominal","scale":{"domain":["CN","PN"],"range":["circle","triangle-up"]},"legend":{"title":null,"legendX":754.5,"legendY":864,"symbolSize":600,"symbolOpacity":0.85,"symbolStrokeWidth":0,"rowPadding":36,"labelOffset":69.5}},"size":{"field":"t","type":"ordinal","scale":{"type":"ordinal","domain":["CN","PN"],"range":[475,970]},"legend":null}}},
{"data":{"values":[{"label":"2018 N63"}]},"mark":{"type":"text","align":"left","baseline":"alphabetic","fontSize":58,"fontStyle":"italic","font":"Liberation Sans","color":"#000000"},"encoding":{"x":{"datum":1.5,"type":"quantitative","scale":{"domain":[-2.2,46.2],"nice":false,"zero":false}},"y":{"datum":48.9,"type":"quantitative","scale":{"domain":[-4.6,56.7],"nice":false,"zero":false}},"text":{"field":"label"}}}
]},
{"width":1040,"height":1122,"title":"B","layer":[
{"data":{"name":"cur"},"transform":[{"filter":"datum.p==='B' && datum.lo != null"}],"mark":{"type":"area","opacity":0.22,"interpolate":"monotone"},"encoding":{"x":{"field":"x","type":"quantitative","title":"Doy","scale":{"domain":[-2.2,46.2],"nice":false,"zero":false},"axis":{"values":[0,10,20,30,40]}},"y":{"field":"lo","type":"quantitative","title":"Kernel weight (mg)","scale":{"domain":[-4.6,56.7],"nice":false,"zero":false},"axis":{"values":[0,10,20,30,40,50]}},"y2":{"field":"hi"},"fill":{"field":"t","type":"nominal","scale":{"range":["#3B4A9C","#FF0000"]},"legend":{"title":null,"legendX":731,"legendY":840.5,"symbolType":"M-1,-0.876H1V0.876H-1Z","symbolSize":7921,"symbolOpacity":0.22,"symbolStrokeWidth":0,"rowPadding":-11,"labelOpacity":0,"labelExpr":"''"}}}},
{"data":{"name":"cur"},"transform":[{"filter":"datum.p==='B'"}],"mark":{"type":"line","strokeWidth":9,"interpolate":"monotone"},"encoding":{"x":{"field":"x","type":"quantitative","title":"Doy","scale":{"domain":[-2.2,46.2],"nice":false,"zero":false}},"y":{"field":"y","type":"quantitative","title":"Kernel weight (mg)","scale":{"domain":[-4.6,56.7],"nice":false,"zero":false}},"stroke":{"field":"t","type":"nominal","scale":{"range":["#3B4A9C","#FF0000"]},"legend":{"title":null,"legendX":735,"legendY":844.5,"symbolType":"stroke","symbolSize":5184,"symbolStrokeWidth":9,"symbolOpacity":1,"rowPadding":-3,"labelOpacity":0,"labelExpr":"''"}}}},
{"data":{"name":"pts"},"transform":[{"filter":"datum.p==='B'"}],"mark":{"type":"rule","strokeWidth":4.5,"opacity":0.8},"encoding":{"x":{"field":"d","type":"quantitative","title":"Doy","scale":{"domain":[-2.2,46.2],"nice":false,"zero":false}},"y":{"field":"ymin","type":"quantitative","title":"Kernel weight (mg)","scale":{"domain":[-4.6,56.7],"nice":false,"zero":false}},"y2":{"field":"ymax"},"color":{"field":"t","type":"nominal","scale":{"domain":["CN","PN"],"range":["#3B4A9C","#FF0000"]}}}},
{"data":{"name":"pts"},"transform":[{"filter":"datum.p==='B'"}],"mark":{"type":"point","filled":true,"opacity":0.8},"encoding":{"x":{"field":"d","type":"quantitative","title":"Doy","scale":{"domain":[-2.2,46.2],"nice":false,"zero":false}},"y":{"field":"w","type":"quantitative","title":"Kernel weight (mg)","scale":{"domain":[-4.6,56.7],"nice":false,"zero":false}},"color":{"field":"t","type":"nominal","scale":{"domain":["CN","PN"],"range":["#3B4A9C","#FF0000"]},"legend":{"title":null,"legendX":754.5,"legendY":864,"symbolSize":600,"symbolOpacity":0.85,"symbolStrokeWidth":0,"rowPadding":36,"labelOffset":69.5}},"shape":{"field":"t","type":"nominal","scale":{"domain":["CN","PN"],"range":["circle","triangle-up"]},"legend":{"title":null,"legendX":754.5,"legendY":864,"symbolSize":600,"symbolOpacity":0.85,"symbolStrokeWidth":0,"rowPadding":36,"labelOffset":69.5}},"size":{"field":"t","type":"ordinal","scale":{"type":"ordinal","domain":["CN","PN"],"range":[475,970]},"legend":null}}},
{"data":{"values":[{"label":"2018 N125"}]},"mark":{"type":"text","align":"left","baseline":"alphabetic","fontSize":58,"fontStyle":"italic","font":"Liberation Sans","color":"#000000"},"encoding":{"x":{"datum":1.5,"type":"quantitative","scale":{"domain":[-2.2,46.2],"nice":false,"zero":false}},"y":{"datum":48.9,"type":"quantitative","scale":{"domain":[-4.6,56.7],"nice":false,"zero":false}},"text":{"field":"label"}}}
]},
{"width":1040,"height":1122,"title":"C","layer":[
{"data":{"name":"cur"},"transform":[{"filter":"datum.p==='C' && datum.lo != null"}],"mark":{"type":"area","opacity":0.22,"interpolate":"monotone"},"encoding":{"x":{"field":"x","type":"quantitative","title":"Doy","scale":{"domain":[-2.2,46.2],"nice":false,"zero":false},"axis":{"values":[0,10,20,30,40]}},"y":{"field":"lo","type":"quantitative","title":"Kernel weight (mg)","scale":{"domain":[-4.6,56.7],"nice":false,"zero":false},"axis":{"values":[0,10,20,30,40,50]}},"y2":{"field":"hi"},"fill":{"field":"t","type":"nominal","scale":{"range":["#3B4A9C","#FF0000"]},"legend":{"title":null,"legendX":731,"legendY":840.5,"symbolType":"M-1,-0.876H1V0.876H-1Z","symbolSize":7921,"symbolOpacity":0.22,"symbolStrokeWidth":0,"rowPadding":-11,"labelOpacity":0,"labelExpr":"''"}}}},
{"data":{"name":"cur"},"transform":[{"filter":"datum.p==='C'"}],"mark":{"type":"line","strokeWidth":9,"interpolate":"monotone"},"encoding":{"x":{"field":"x","type":"quantitative","title":"Doy","scale":{"domain":[-2.2,46.2],"nice":false,"zero":false}},"y":{"field":"y","type":"quantitative","title":"Kernel weight (mg)","scale":{"domain":[-4.6,56.7],"nice":false,"zero":false}},"stroke":{"field":"t","type":"nominal","scale":{"range":["#3B4A9C","#FF0000"]},"legend":{"title":null,"legendX":735,"legendY":844.5,"symbolType":"stroke","symbolSize":5184,"symbolStrokeWidth":9,"symbolOpacity":1,"rowPadding":-3,"labelOpacity":0,"labelExpr":"''"}}}},
{"data":{"name":"pts"},"transform":[{"filter":"datum.p==='C'"}],"mark":{"type":"rule","strokeWidth":4.5,"opacity":0.8},"encoding":{"x":{"field":"d","type":"quantitative","title":"Doy","scale":{"domain":[-2.2,46.2],"nice":false,"zero":false}},"y":{"field":"ymin","type":"quantitative","title":"Kernel weight (mg)","scale":{"domain":[-4.6,56.7],"nice":false,"zero":false}},"y2":{"field":"ymax"},"color":{"field":"t","type":"nominal","scale":{"domain":["CN","PN"],"range":["#3B4A9C","#FF0000"]}}}},
{"data":{"name":"pts"},"transform":[{"filter":"datum.p==='C'"}],"mark":{"type":"point","filled":true,"opacity":0.8},"encoding":{"x":{"field":"d","type":"quantitative","title":"Doy","scale":{"domain":[-2.2,46.2],"nice":false,"zero":false}},"y":{"field":"w","type":"quantitative","title":"Kernel weight (mg)","scale":{"domain":[-4.6,56.7],"nice":false,"zero":false}},"color":{"field":"t","type":"nominal","scale":{"domain":["CN","PN"],"range":["#3B4A9C","#FF0000"]},"legend":{"title":null,"legendX":754.5,"legendY":864,"symbolSize":600,"symbolOpacity":0.85,"symbolStrokeWidth":0,"rowPadding":36,"labelOffset":69.5}},"shape":{"field":"t","type":"nominal","scale":{"domain":["CN","PN"],"range":["circle","triangle-up"]},"legend":{"title":null,"legendX":754.5,"legendY":864,"symbolSize":600,"symbolOpacity":0.85,"symbolStrokeWidth":0,"rowPadding":36,"labelOffset":69.5}},"size":{"field":"t","type":"ordinal","scale":{"type":"ordinal","domain":["CN","PN"],"range":[475,970]},"legend":null}}},
{"data":{"values":[{"label":"2018 N188"}]},"mark":{"type":"text","align":"left","baseline":"alphabetic","fontSize":58,"fontStyle":"italic","font":"Liberation Sans","color":"#000000"},"encoding":{"x":{"datum":1.5,"type":"quantitative","scale":{"domain":[-2.2,46.2],"nice":false,"zero":false}},"y":{"datum":48.9,"type":"quantitative","scale":{"domain":[-4.6,56.7],"nice":false,"zero":false}},"text":{"field":"label"}}}
]},
{"width":1040,"height":1122,"title":"D","layer":[
{"data":{"name":"cur"},"transform":[{"filter":"datum.p==='D' && datum.lo != null"}],"mark":{"type":"area","opacity":0.22,"interpolate":"monotone"},"encoding":{"x":{"field":"x","type":"quantitative","title":"Doy","scale":{"domain":[-2.3,48.3],"nice":false,"zero":false},"axis":{"values":[0,10,20,30,40]}},"y":{"field":"lo","type":"quantitative","title":"Kernel weight (mg)","scale":{"domain":[-4.6,56.7],"nice":false,"zero":false},"axis":{"values":[0,10,20,30,40,50]}},"y2":{"field":"hi"},"fill":{"field":"t","type":"nominal","scale":{"range":["#3B4A9C","#FF0000"]},"legend":{"title":null,"legendX":731,"legendY":840.5,"symbolType":"M-1,-0.876H1V0.876H-1Z","symbolSize":7921,"symbolOpacity":0.22,"symbolStrokeWidth":0,"rowPadding":-11,"labelOpacity":0,"labelExpr":"''"}}}},
{"data":{"name":"cur"},"transform":[{"filter":"datum.p==='D'"}],"mark":{"type":"line","strokeWidth":9,"interpolate":"monotone"},"encoding":{"x":{"field":"x","type":"quantitative","title":"Doy","scale":{"domain":[-2.3,48.3],"nice":false,"zero":false}},"y":{"field":"y","type":"quantitative","title":"Kernel weight (mg)","scale":{"domain":[-4.6,56.7],"nice":false,"zero":false}},"stroke":{"field":"t","type":"nominal","scale":{"range":["#3B4A9C","#FF0000"]},"legend":{"title":null,"legendX":735,"legendY":844.5,"symbolType":"stroke","symbolSize":5184,"symbolStrokeWidth":9,"symbolOpacity":1,"rowPadding":-3,"labelOpacity":0,"labelExpr":"''"}}}},
{"data":{"name":"pts"},"transform":[{"filter":"datum.p==='D'"}],"mark":{"type":"rule","strokeWidth":4.5,"opacity":0.8},"encoding":{"x":{"field":"d","type":"quantitative","title":"Doy","scale":{"domain":[-2.3,48.3],"nice":false,"zero":false}},"y":{"field":"ymin","type":"quantitative","title":"Kernel weight (mg)","scale":{"domain":[-4.6,56.7],"nice":false,"zero":false}},"y2":{"field":"ymax"},"color":{"field":"t","type":"nominal","scale":{"domain":["CN","PN"],"range":["#3B4A9C","#FF0000"]}}}},
{"data":{"name":"pts"},"transform":[{"filter":"datum.p==='D'"}],"mark":{"type":"point","filled":true,"opacity":0.8},"encoding":{"x":{"field":"d","type":"quantitative","title":"Doy","scale":{"domain":[-2.3,48.3],"nice":false,"zero":false}},"y":{"field":"w","type":"quantitative","title":"Kernel weight (mg)","scale":{"domain":[-4.6,56.7],"nice":false,"zero":false}},"color":{"field":"t","type":"nominal","scale":{"domain":["CN","PN"],"range":["#3B4A9C","#FF0000"]},"legend":{"title":null,"legendX":754.5,"legendY":864,"symbolSize":600,"symbolOpacity":0.85,"symbolStrokeWidth":0,"rowPadding":36,"labelOffset":69.5}},"shape":{"field":"t","type":"nominal","scale":{"domain":["CN","PN"],"range":["circle","triangle-up"]},"legend":{"title":null,"legendX":754.5,"legendY":864,"symbolSize":600,"symbolOpacity":0.85,"symbolStrokeWidth":0,"rowPadding":36,"labelOffset":69.5}},"size":{"field":"t","type":"ordinal","scale":{"type":"ordinal","domain":["CN","PN"],"range":[475,970]},"legend":null}}},
{"data":{"values":[{"label":"2019 N63"}]},"mark":{"type":"text","align":"left","baseline":"alphabetic","fontSize":58,"fontStyle":"italic","font":"Liberation Sans","color":"#000000"},"encoding":{"x":{"datum":1.2,"type":"quantitative","scale":{"domain":[-2.3,48.3],"nice":false,"zero":false}},"y":{"datum":48.9,"type":"quantitative","scale":{"domain":[-4.6,56.7],"nice":false,"zero":false}},"text":{"field":"label"}}}
]},
{"width":1040,"height":1122,"title":"E","layer":[
{"data":{"name":"cur"},"transform":[{"filter":"datum.p==='E' && datum.lo != null"}],"mark":{"type":"area","opacity":0.22,"interpolate":"monotone"},"encoding":{"x":{"field":"x","type":"quantitative","title":"Doy","scale":{"domain":[-2.3,48.3],"nice":false,"zero":false},"axis":{"values":[0,10,20,30,40]}},"y":{"field":"lo","type":"quantitative","title":"Kernel weight (mg)","scale":{"domain":[-4.6,56.7],"nice":false,"zero":false},"axis":{"values":[0,10,20,30,40,50]}},"y2":{"field":"hi"},"fill":{"field":"t","type":"nominal","scale":{"range":["#3B4A9C","#FF0000"]},"legend":{"title":null,"legendX":731,"legendY":840.5,"symbolType":"M-1,-0.876H1V0.876H-1Z","symbolSize":7921,"symbolOpacity":0.22,"symbolStrokeWidth":0,"rowPadding":-11,"labelOpacity":0,"labelExpr":"''"}}}},
{"data":{"name":"cur"},"transform":[{"filter":"datum.p==='E'"}],"mark":{"type":"line","strokeWidth":9,"interpolate":"monotone"},"encoding":{"x":{"field":"x","type":"quantitative","title":"Doy","scale":{"domain":[-2.3,48.3],"nice":false,"zero":false}},"y":{"field":"y","type":"quantitative","title":"Kernel weight (mg)","scale":{"domain":[-4.6,56.7],"nice":false,"zero":false}},"stroke":{"field":"t","type":"nominal","scale":{"range":["#3B4A9C","#FF0000"]},"legend":{"title":null,"legendX":735,"legendY":844.5,"symbolType":"stroke","symbolSize":5184,"symbolStrokeWidth":9,"symbolOpacity":1,"rowPadding":-3,"labelOpacity":0,"labelExpr":"''"}}}},
{"data":{"name":"pts"},"transform":[{"filter":"datum.p==='E'"}],"mark":{"type":"rule","strokeWidth":4.5,"opacity":0.8},"encoding":{"x":{"field":"d","type":"quantitative","title":"Doy","scale":{"domain":[-2.3,48.3],"nice":false,"zero":false}},"y":{"field":"ymin","type":"quantitative","title":"Kernel weight (mg)","scale":{"domain":[-4.6,56.7],"nice":false,"zero":false}},"y2":{"field":"ymax"},"color":{"field":"t","type":"nominal","scale":{"domain":["CN","PN"],"range":["#3B4A9C","#FF0000"]}}}},
{"data":{"name":"pts"},"transform":[{"filter":"datum.p==='E'"}],"mark":{"type":"point","filled":true,"opacity":0.8},"encoding":{"x":{"field":"d","type":"quantitative","title":"Doy","scale":{"domain":[-2.3,48.3],"nice":false,"zero":false}},"y":{"field":"w","type":"quantitative","title":"Kernel weight (mg)","scale":{"domain":[-4.6,56.7],"nice":false,"zero":false}},"color":{"field":"t","type":"nominal","scale":{"domain":["CN","PN"],"range":["#3B4A9C","#FF0000"]},"legend":{"title":null,"legendX":754.5,"legendY":864,"symbolSize":600,"symbolOpacity":0.85,"symbolStrokeWidth":0,"rowPadding":36,"labelOffset":69.5}},"shape":{"field":"t","type":"nominal","scale":{"domain":["CN","PN"],"range":["circle","triangle-up"]},"legend":{"title":null,"legendX":754.5,"legendY":864,"symbolSize":600,"symbolOpacity":0.85,"symbolStrokeWidth":0,"rowPadding":36,"labelOffset":69.5}},"size":{"field":"t","type":"ordinal","scale":{"type":"ordinal","domain":["CN","PN"],"range":[475,970]},"legend":null}}},
{"data":{"values":[{"label":"2019 N125"}]},"mark":{"type":"text","align":"left","baseline":"alphabetic","fontSize":58,"fontStyle":"italic","font":"Liberation Sans","color":"#000000"},"encoding":{"x":{"datum":1.2,"type":"quantitative","scale":{"domain":[-2.3,48.3],"nice":false,"zero":false}},"y":{"datum":48.9,"type":"quantitative","scale":{"domain":[-4.6,56.7],"nice":false,"zero":false}},"text":{"field":"label"}}}
]},
{"width":1040,"height":1122,"title":"F","layer":[
{"data":{"name":"cur"},"transform":[{"filter":"datum.p==='F' && datum.lo != null"}],"mark":{"type":"area","opacity":0.22,"interpolate":"monotone"},"encoding":{"x":{"field":"x","type":"quantitative","title":"Doy","scale":{"domain":[-2.3,48.3],"nice":false,"zero":false},"axis":{"values":[0,10,20,30,40]}},"y":{"field":"lo","type":"quantitative","title":"Kernel weight (mg)","scale":{"domain":[-4.6,56.7],"nice":false,"zero":false},"axis":{"values":[0,10,20,30,40,50]}},"y2":{"field":"hi"},"fill":{"field":"t","type":"nominal","scale":{"range":["#3B4A9C","#FF0000"]},"legend":{"title":null,"legendX":731,"legendY":840.5,"symbolType":"M-1,-0.876H1V0.876H-1Z","symbolSize":7921,"symbolOpacity":0.22,"symbolStrokeWidth":0,"rowPadding":-11,"labelOpacity":0,"labelExpr":"''"}}}},
{"data":{"name":"cur"},"transform":[{"filter":"datum.p==='F'"}],"mark":{"type":"line","strokeWidth":9,"interpolate":"monotone"},"encoding":{"x":{"field":"x","type":"quantitative","title":"Doy","scale":{"domain":[-2.3,48.3],"nice":false,"zero":false}},"y":{"field":"y","type":"quantitative","title":"Kernel weight (mg)","scale":{"domain":[-4.6,56.7],"nice":false,"zero":false}},"stroke":{"field":"t","type":"nominal","scale":{"range":["#3B4A9C","#FF0000"]},"legend":{"title":null,"legendX":735,"legendY":844.5,"symbolType":"stroke","symbolSize":5184,"symbolStrokeWidth":9,"symbolOpacity":1,"rowPadding":-3,"labelOpacity":0,"labelExpr":"''"}}}},
{"data":{"name":"pts"},"transform":[{"filter":"datum.p==='F'"}],"mark":{"type":"rule","strokeWidth":4.5,"opacity":0.8},"encoding":{"x":{"field":"d","type":"quantitative","title":"Doy","scale":{"domain":[-2.3,48.3],"nice":false,"zero":false}},"y":{"field":"ymin","type":"quantitative","title":"Kernel weight (mg)","scale":{"domain":[-4.6,56.7],"nice":false,"zero":false}},"y2":{"field":"ymax"},"color":{"field":"t","type":"nominal","scale":{"domain":["CN","PN"],"range":["#3B4A9C","#FF0000"]}}}},
{"data":{"name":"pts"},"transform":[{"filter":"datum.p==='F'"}],"mark":{"type":"point","filled":true,"opacity":0.8},"encoding":{"x":{"field":"d","type":"quantitative","title":"Doy","scale":{"domain":[-2.3,48.3],"nice":false,"zero":false}},"y":{"field":"w","type":"quantitative","title":"Kernel weight (mg)","scale":{"domain":[-4.6,56.7],"nice":false,"zero":false}},"color":{"field":"t","type":"nominal","scale":{"domain":["CN","PN"],"range":["#3B4A9C","#FF0000"]},"legend":{"title":null,"legendX":754.5,"legendY":864,"symbolSize":600,"symbolOpacity":0.85,"symbolStrokeWidth":0,"rowPadding":36,"labelOffset":69.5}},"shape":{"field":"t","type":"nominal","scale":{"domain":["CN","PN"],"range":["circle","triangle-up"]},"legend":{"title":null,"legendX":754.5,"legendY":864,"symbolSize":600,"symbolOpacity":0.85,"symbolStrokeWidth":0,"rowPadding":36,"labelOffset":69.5}},"size":{"field":"t","type":"ordinal","scale":{"type":"ordinal","domain":["CN","PN"],"range":[475,970]},"legend":null}}},
{"data":{"values":[{"label":"2019 N188"}]},"mark":{"type":"text","align":"left","baseline":"alphabetic","fontSize":58,"fontStyle":"italic","font":"Liberation Sans","color":"#000000"},"encoding":{"x":{"datum":1.2,"type":"quantitative","scale":{"domain":[-2.3,48.3],"nice":false,"zero":false}},"y":{"datum":48.9,"type":"quantitative","scale":{"domain":[-4.6,56.7],"nice":false,"zero":false}},"text":{"field":"label"}}}
]},
{"width":1040,"height":1122,"title":"G","layer":[
{"data":{"name":"cur"},"transform":[{"filter":"datum.p==='G' && datum.lo != null"}],"mark":{"type":"area","opacity":0.22,"interpolate":"monotone"},"encoding":{"x":{"field":"x","type":"quantitative","title":"Doy","scale":{"domain":[-2.3,48.3],"nice":false,"zero":false},"axis":{"values":[0,10,20,30,40]}},"y":{"field":"lo","type":"quantitative","title":"Kernel weight (mg)","scale":{"domain":[-4.6,56.7],"nice":false,"zero":false},"axis":{"values":[0,10,20,30,40,50]}},"y2":{"field":"hi"},"fill":{"field":"t","type":"nominal","scale":{"range":["#3B4A9C","#FF0000"]},"legend":{"title":null,"legendX":731,"legendY":840.5,"symbolType":"M-1,-0.876H1V0.876H-1Z","symbolSize":7921,"symbolOpacity":0.22,"symbolStrokeWidth":0,"rowPadding":-11,"labelOpacity":0,"labelExpr":"''"}}}},
{"data":{"name":"cur"},"transform":[{"filter":"datum.p==='G'"}],"mark":{"type":"line","strokeWidth":9,"interpolate":"monotone"},"encoding":{"x":{"field":"x","type":"quantitative","title":"Doy","scale":{"domain":[-2.3,48.3],"nice":false,"zero":false}},"y":{"field":"y","type":"quantitative","title":"Kernel weight (mg)","scale":{"domain":[-4.6,56.7],"nice":false,"zero":false}},"stroke":{"field":"t","type":"nominal","scale":{"range":["#3B4A9C","#FF0000"]},"legend":{"title":null,"legendX":735,"legendY":844.5,"symbolType":"stroke","symbolSize":5184,"symbolStrokeWidth":9,"symbolOpacity":1,"rowPadding":-3,"labelOpacity":0,"labelExpr":"''"}}}},
{"data":{"name":"pts"},"transform":[{"filter":"datum.p==='G'"}],"mark":{"type":"rule","strokeWidth":4.5,"opacity":0.8},"encoding":{"x":{"field":"d","type":"quantitative","title":"Doy","scale":{"domain":[-2.3,48.3],"nice":false,"zero":false}},"y":{"field":"ymin","type":"quantitative","title":"Kernel weight (mg)","scale":{"domain":[-4.6,56.7],"nice":false,"zero":false}},"y2":{"field":"ymax"},"color":{"field":"t","type":"nominal","scale":{"domain":["CN","PN"],"range":["#3B4A9C","#FF0000"]}}}},
{"data":{"name":"pts"},"transform":[{"filter":"datum.p==='G'"}],"mark":{"type":"point","filled":true,"opacity":0.8},"encoding":{"x":{"field":"d","type":"quantitative","title":"Doy","scale":{"domain":[-2.3,48.3],"nice":false,"zero":false}},"y":{"field":"w","type":"quantitative","title":"Kernel weight (mg)","scale":{"domain":[-4.6,56.7],"nice":false,"zero":false}},"color":{"field":"t","type":"nominal","scale":{"domain":["CN","PN"],"range":["#3B4A9C","#FF0000"]},"legend":{"title":null,"legendX":754.5,"legendY":864,"symbolSize":600,"symbolOpacity":0.85,"symbolStrokeWidth":0,"rowPadding":36,"labelOffset":69.5}},"shape":{"field":"t","type":"nominal","scale":{"domain":["CN","PN"],"range":["circle","triangle-up"]},"legend":{"title":null,"legendX":754.5,"legendY":864,"symbolSize":600,"symbolOpacity":0.85,"symbolStrokeWidth":0,"rowPadding":36,"labelOffset":69.5}},"size":{"field":"t","type":"ordinal","scale":{"type":"ordinal","domain":["CN","PN"],"range":[475,970]},"legend":null}}},
{"data":{"values":[{"label":"2020 N63"}]},"mark":{"type":"text","align":"left","baseline":"alphabetic","fontSize":58,"fontStyle":"italic","font":"Liberation Sans","color":"#000000"},"encoding":{"x":{"datum":1.2,"type":"quantitative","scale":{"domain":[-2.3,48.3],"nice":false,"zero":false}},"y":{"datum":48.9,"type":"quantitative","scale":{"domain":[-4.6,56.7],"nice":false,"zero":false}},"text":{"field":"label"}}}
]},
{"width":1040,"height":1122,"title":"H","layer":[
{"data":{"name":"cur"},"transform":[{"filter":"datum.p==='H' && datum.lo != null"}],"mark":{"type":"area","opacity":0.22,"interpolate":"monotone"},"encoding":{"x":{"field":"x","type":"quantitative","title":"Doy","scale":{"domain":[-2.3,48.3],"nice":false,"zero":false},"axis":{"values":[0,10,20,30,40]}},"y":{"field":"lo","type":"quantitative","title":"Kernel weight (mg)","scale":{"domain":[-4.6,56.7],"nice":false,"zero":false},"axis":{"values":[0,10,20,30,40,50]}},"y2":{"field":"hi"},"fill":{"field":"t","type":"nominal","scale":{"range":["#3B4A9C","#FF0000"]},"legend":{"title":null,"legendX":731,"legendY":840.5,"symbolType":"M-1,-0.876H1V0.876H-1Z","symbolSize":7921,"symbolOpacity":0.22,"symbolStrokeWidth":0,"rowPadding":-11,"labelOpacity":0,"labelExpr":"''"}}}},
{"data":{"name":"cur"},"transform":[{"filter":"datum.p==='H'"}],"mark":{"type":"line","strokeWidth":9,"interpolate":"monotone"},"encoding":{"x":{"field":"x","type":"quantitative","title":"Doy","scale":{"domain":[-2.3,48.3],"nice":false,"zero":false}},"y":{"field":"y","type":"quantitative","title":"Kernel weight (mg)","scale":{"domain":[-4.6,56.7],"nice":false,"zero":false}},"stroke":{"field":"t","type":"nominal","scale":{"range":["#3B4A9C","#FF0000"]},"legend":{"title":null,"legendX":735,"legendY":844.5,"symbolType":"stroke","symbolSize":5184,"symbolStrokeWidth":9,"symbolOpacity":1,"rowPadding":-3,"labelOpacity":0,"labelExpr":"''"}}}},
{"data":{"name":"pts"},"transform":[{"filter":"datum.p==='H'"}],"mark":{"type":"rule","strokeWidth":4.5,"opacity":0.8},"encoding":{"x":{"field":"d","type":"quantitative","title":"Doy","scale":{"domain":[-2.3,48.3],"nice":false,"zero":false}},"y":{"field":"ymin","type":"quantitative","title":"Kernel weight (mg)","scale":{"domain":[-4.6,56.7],"nice":false,"zero":false}},"y2":{"field":"ymax"},"color":{"field":"t","type":"nominal","scale":{"domain":["CN","PN"],"range":["#3B4A9C","#FF0000"]}}}},
{"data":{"name":"pts"},"transform":[{"filter":"datum.p==='H'"}],"mark":{"type":"point","filled":true,"opacity":0.8},"encoding":{"x":{"field":"d","type":"quantitative","title":"Doy","scale":{"domain":[-2.3,48.3],"nice":false,"zero":false}},"y":{"field":"w","type":"quantitative","title":"Kernel weight (mg)","scale":{"domain":[-4.6,56.7],"nice":false,"zero":false}},"color":{"field":"t","type":"nominal","scale":{"domain":["CN","PN"],"range":["#3B4A9C","#FF0000"]},"legend":{"title":null,"legendX":754.5,"legendY":864,"symbolSize":600,"symbolOpacity":0.85,"symbolStrokeWidth":0,"rowPadding":36,"labelOffset":69.5}},"shape":{"field":"t","type":"nominal","scale":{"domain":["CN","PN"],"range":["circle","triangle-up"]},"legend":{"title":null,"legendX":754.5,"legendY":864,"symbolSize":600,"symbolOpacity":0.85,"symbolStrokeWidth":0,"rowPadding":36,"labelOffset":69.5}},"size":{"field":"t","type":"ordinal","scale":{"type":"ordinal","domain":["CN","PN"],"range":[475,970]},"legend":null}}},
{"data":{"values":[{"label":"2020 N125"}]},"mark":{"type":"text","align":"left","baseline":"alphabetic","fontSize":58,"fontStyle":"italic","font":"Liberation Sans","color":"#000000"},"encoding":{"x":{"datum":1.2,"type":"quantitative","scale":{"domain":[-2.3,48.3],"nice":false,"zero":false}},"y":{"datum":48.9,"type":"quantitative","scale":{"domain":[-4.6,56.7],"nice":false,"zero":false}},"text":{"field":"label"}}}
]},
{"width":1040,"height":1122,"title":"I","layer":[
{"data":{"name":"cur"},"transform":[{"filter":"datum.p==='I' && datum.lo != null"}],"mark":{"type":"area","opacity":0.22,"interpolate":"monotone"},"encoding":{"x":{"field":"x","type":"quantitative","title":"Doy","scale":{"domain":[-2.3,48.3],"nice":false,"zero":false},"axis":{"values":[0,10,20,30,40]}},"y":{"field":"lo","type":"quantitative","title":"Kernel weight (mg)","scale":{"domain":[-4.6,56.7],"nice":false,"zero":false},"axis":{"values":[0,10,20,30,40,50]}},"y2":{"field":"hi"},"fill":{"field":"t","type":"nominal","scale":{"range":["#3B4A9C","#FF0000"]},"legend":{"title":null,"legendX":731,"legendY":840.5,"symbolType":"M-1,-0.876H1V0.876H-1Z","symbolSize":7921,"symbolOpacity":0.22,"symbolStrokeWidth":0,"rowPadding":-11,"labelOpacity":0,"labelExpr":"''"}}}},
{"data":{"name":"cur"},"transform":[{"filter":"datum.p==='I'"}],"mark":{"type":"line","strokeWidth":9,"interpolate":"monotone"},"encoding":{"x":{"field":"x","type":"quantitative","title":"Doy","scale":{"domain":[-2.3,48.3],"nice":false,"zero":false}},"y":{"field":"y","type":"quantitative","title":"Kernel weight (mg)","scale":{"domain":[-4.6,56.7],"nice":false,"zero":false}},"stroke":{"field":"t","type":"nominal","scale":{"range":["#3B4A9C","#FF0000"]},"legend":{"title":null,"legendX":735,"legendY":844.5,"symbolType":"stroke","symbolSize":5184,"symbolStrokeWidth":9,"symbolOpacity":1,"rowPadding":-3,"labelOpacity":0,"labelExpr":"''"}}}},
{"data":{"name":"pts"},"transform":[{"filter":"datum.p==='I'"}],"mark":{"type":"rule","strokeWidth":4.5,"opacity":0.8},"encoding":{"x":{"field":"d","type":"quantitative","title":"Doy","scale":{"domain":[-2.3,48.3],"nice":false,"zero":false}},"y":{"field":"ymin","type":"quantitative","title":"Kernel weight (mg)","scale":{"domain":[-4.6,56.7],"nice":false,"zero":false}},"y2":{"field":"ymax"},"color":{"field":"t","type":"nominal","scale":{"domain":["CN","PN"],"range":["#3B4A9C","#FF0000"]}}}},
{"data":{"name":"pts"},"transform":[{"filter":"datum.p==='I'"}],"mark":{"type":"point","filled":true,"opacity":0.8},"encoding":{"x":{"field":"d","type":"quantitative","title":"Doy","scale":{"domain":[-2.3,48.3],"nice":false,"zero":false}},"y":{"field":"w","type":"quantitative","title":"Kernel weight (mg)","scale":{"domain":[-4.6,56.7],"nice":false,"zero":false}},"color":{"field":"t","type":"nominal","scale":{"domain":["CN","PN"],"range":["#3B4A9C","#FF0000"]},"legend":{"title":null,"legendX":754.5,"legendY":864,"symbolSize":600,"symbolOpacity":0.85,"symbolStrokeWidth":0,"rowPadding":36,"labelOffset":69.5}},"shape":{"field":"t","type":"nominal","scale":{"domain":["CN","PN"],"range":["circle","triangle-up"]},"legend":{"title":null,"legendX":754.5,"legendY":864,"symbolSize":600,"symbolOpacity":0.85,"symbolStrokeWidth":0,"rowPadding":36,"labelOffset":69.5}},"size":{"field":"t","type":"ordinal","scale":{"type":"ordinal","domain":["CN","PN"],"range":[475,970]},"legend":null}}},
{"data":{"values":[{"label":"2020 N188"}]},"mark":{"type":"text","align":"left","baseline":"alphabetic","fontSize":58,"fontStyle":"italic","font":"Liberation Sans","color":"#000000"},"encoding":{"x":{"datum":1.2,"type":"quantitative","scale":{"domain":[-2.3,48.3],"nice":false,"zero":false}},"y":{"datum":48.9,"type":"quantitative","scale":{"domain":[-4.6,56.7],"nice":false,"zero":false}},"text":{"field":"label"}}}
]}
],
"config":{
"view":{"stroke":"#333333","strokeWidth":4},
"axis":{"grid":false,"domain":false,"ticks":true,"tickWidth":4,"tickColor":"#333333","labelFont":"Liberation Sans","labelFontSize":66,"labelColor":"#000000","titleFont":"Liberation Sans","titleFontSize":73,"titleFontWeight":"normal","titleColor":"#000000"},
"axisX":{"tickSize":17,"labelPadding":16,"titlePadding":2},
"axisY":{"tickSize":19,"labelPadding":21,"titlePadding":44,"minExtent":119,"maxExtent":119},
"legend":{"orient":"none","padding":0,"labelFontSize":42,"labelFont":"Liberation Sans","labelColor":"#000000"},
"title":{"anchor":"start","frame":"group","fontSize":66,"fontWeight":"bold","font":"Liberation Sans","color":"#000000","offset":0,"dx":-251.5,"dy":56}
}
}
